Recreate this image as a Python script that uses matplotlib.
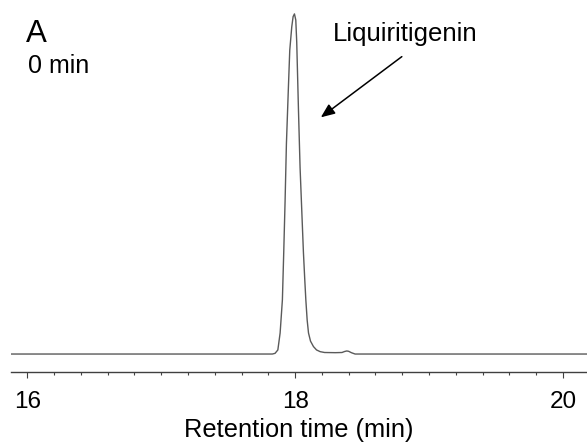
import matplotlib
matplotlib.use("Agg")
import matplotlib.pyplot as plt
from matplotlib.ticker import MultipleLocator

plt.rcParams['font.family'] = ['Liberation Sans', 'DejaVu Sans']

# chromatogram (time in min, signal in arbitrary units)
time = [15.88, 17.83, 17.85, 17.871, 17.888, 17.905, 17.915, 17.925, 17.935, 17.95,
        17.96, 17.975, 17.985, 17.995, 18.005, 18.012, 18.025, 18.037, 18.05, 18.062,
        18.072, 18.08, 18.09, 18.10, 18.115, 18.137, 18.16, 18.187, 18.22, 18.30,
        18.35, 18.37, 18.386, 18.40, 18.42, 18.448, 20.18]
signal = [0, 0, 0.2, 1.2, 6.2, 16, 30, 45, 62, 78.8,
          89.6, 96.5, 99.5, 100.3, 98.5, 92, 72, 55, 42, 30,
          22, 16, 10, 6.2, 3.8, 2.2, 1.2, 0.7, 0.45, 0.4,
          0.45, 0.75, 0.9, 0.8, 0.4, 0, 0]
major_ticks = [16, 18, 20]
peak_name = "Liquiritigenin"
panel = "A"
condition = "0 min"

W, H = 587, 447
fig = plt.figure(figsize=(W / 100, H / 100), dpi=100)
ax = fig.add_axes([11 / W, (H - 372) / H, 1 - 11 / W, 372 / H])

ax.plot(time, signal, color='#5a5a5a', lw=1.0)
ax.set_xlim(15.878, 20.18)
ax.set_ylim(-5.3, 104.4)

for s in ['top', 'right', 'left']:
    ax.spines[s].set_visible(False)
ax.spines['bottom'].set_color('#404040')
ax.spines['bottom'].set_linewidth(1.0)
ax.set_yticks([])
ax.set_xticks(major_ticks)
ax.xaxis.set_minor_locator(MultipleLocator(0.2))
ax.tick_params(axis='x', which='major', length=4, width=0.8, color='#404040',
               labelsize=17.5, pad=10)
ax.tick_params(axis='x', which='minor', length=2.5, width=0.8, color='#404040')
ax.set_xlabel("Retention time (min)", fontsize=18.3, labelpad=3)

ax.annotate("", xy=(18.192, 69.8), xytext=(18.797, 87.7),
            arrowprops=dict(arrowstyle='-|>,head_length=0.6,head_width=0.25',
                            color='black', lw=1.1,
                            mutation_scale=14, shrinkA=0, shrinkB=0))
ax.text(18.285, 92.3, peak_name, fontsize=18.5, ha='left', va='baseline')

fig.text(26 / W, 1 - 41.7 / H, panel, fontsize=22.5, ha='left', va='baseline')
fig.text(28 / W, 1 - 72.7 / H, condition, fontsize=18, ha='left', va='baseline')

fig.savefig("out.png", dpi=100)
